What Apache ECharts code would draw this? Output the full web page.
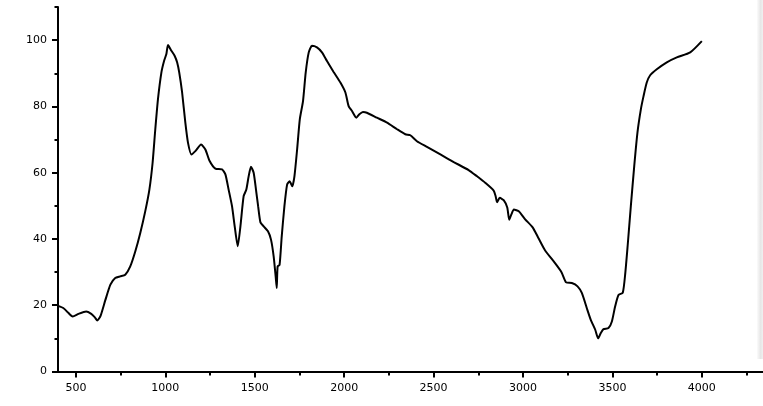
<!DOCTYPE html>
<html>
<head>
<meta charset="utf-8">
<style>
  html, body { margin: 0; padding: 0; background: #fff; }
  #chart { width: 763px; height: 406px; }
</style>
<script src="https://cdn.jsdelivr.net/npm/echarts@6/dist/echarts.min.js"></script>
</head>
<body>
<div id="chart"></div>
<script>
// wavenumber (cm-1) and transmittance (%)
const wavenumber = [
  400, 431, 456, 482, 515, 557, 586, 605, 620, 638, 665, 693, 720, 748, 776, 804, 832, 860, 888, 911,
  929, 944, 959, 978, 993, 1006, 1015, 1034, 1052, 1066, 1078, 1094, 1112, 1127, 1146, 1168, 1200, 1224, 1248, 1280,
  1317, 1336, 1354, 1373, 1388, 1405, 1420, 1438, 1453, 1466, 1479, 1494, 1507, 1519, 1532, 1550, 1574, 1591, 1606, 1617,
  1623, 1628, 1639, 1651, 1666, 1681, 1695, 1710, 1722, 1737, 1752, 1770, 1785, 1802, 1820, 1848, 1876, 1904, 1941, 1979,
  2007, 2025, 2044, 2068, 2085, 2105, 2127, 2183, 2240, 2296, 2342, 2370, 2407, 2463, 2538, 2613, 2696, 2743, 2790, 2836,
  2847, 2855, 2870, 2892, 2912, 2923, 2935, 2949, 2978, 3011, 3054, 3086, 3123, 3179, 3216, 3241, 3273, 3305, 3329, 3357,
  3379, 3404, 3420, 3435, 3450, 3478, 3497, 3515, 3534, 3558, 3572, 3585, 3603, 3622, 3640, 3659, 3674, 3692, 3711, 3748,
  3804, 3860, 3935, 4000
];
const transmittance = [
  19.8, 19.1, 17.8, 16.6, 17.4, 18.1, 17.4, 16.4, 15.4, 16.8, 21.6, 26.2, 28.2, 28.7, 29.2, 31.7, 36.2, 41.8, 48.4, 54.9,
  63.0, 73.1, 82.2, 90.2, 93.7, 95.8, 98.5, 96.8, 95.3, 93.3, 90.2, 84.2, 75.1, 69.0, 65.5, 66.5, 68.5, 67.0, 63.5, 61.2,
  61.0, 59.5, 54.9, 49.9, 43.8, 37.8, 43.8, 52.9, 54.9, 58.9, 61.8, 60.0, 54.9, 49.9, 45.0, 43.8, 42.3, 39.8, 34.7, 28.7,
  25.2, 31.7, 32.2, 40.8, 49.9, 56.4, 57.4, 55.9, 58.9, 67.0, 76.1, 81.6, 90.2, 96.3, 98.3, 97.8, 96.3, 93.7, 90.4, 87.2,
  84.2, 80.1, 78.6, 76.6, 77.6, 78.3, 78.1, 76.6, 75.1, 73.1, 71.6, 71.3, 69.5, 67.8, 65.5, 63.2, 60.8, 58.9, 56.9, 54.6,
  52.9, 51.1, 52.4, 51.7, 49.5, 45.8, 47.4, 48.9, 48.3, 46.0, 43.5, 40.3, 36.6, 32.7, 29.9, 26.9, 26.7, 25.7, 23.7, 19.1,
  15.6, 12.6, 10.0, 11.6, 12.8, 13.1, 15.1, 19.6, 23.1, 23.8, 29.7, 37.8, 49.9, 62.0, 72.1, 79.1, 83.1, 87.2, 89.4, 91.2,
  93.3, 94.8, 96.3, 99.7
];

// tick positions
const xMajorTicks = [500, 1000, 1500, 2000, 2500, 3000, 3500, 4000];
const xMinorTicks = [750, 1250, 1750, 2250, 2750, 3250, 3750, 4250];
const yMajorTicks = [0, 20, 40, 60, 80, 100];
const yMinorTicks = [10, 30, 50, 70, 90, 110];

const chart = echarts.init(document.getElementById("chart"));

const labelFont = { color: "#000", fontFamily: "DejaVu Sans", fontSize: 11 };
const axisLine = { show: true, lineStyle: { color: "#000", width: 2 } };
const X_MIN = 400, X_MAX = 4342;

chart.setOption({
    animation: false,
    grid: { left: 58, right: 0, top: 7, bottom: 34.5 },
    xAxis: [
        {
            type: "value", min: X_MIN, max: X_MAX,
            axisLine: axisLine,
            axisTick: { show: true, length: 6, customValues: xMajorTicks, lineStyle: { color: "#000", width: 2 } },
            axisLabel: { ...labelFont, margin: 11, customValues: xMajorTicks, formatter: v => String(v) },
            splitLine: { show: false },
        },
        {
            type: "value", min: X_MIN, max: X_MAX, position: "bottom",
            axisLine: { show: false },
            axisTick: { show: true, length: 4, customValues: xMinorTicks, lineStyle: { color: "#000", width: 2 } },
            axisLabel: { show: false },
            splitLine: { show: false },
        },
    ],
    yAxis: [
        {
            type: "value", min: 0, max: 110,
            axisLine: axisLine,
            axisTick: { show: true, length: 6, customValues: yMajorTicks, lineStyle: { color: "#000", width: 2 } },
            axisLabel: { ...labelFont, margin: 11, customValues: yMajorTicks },
            splitLine: { show: false },
        },
        {
            type: "value", min: 0, max: 110, position: "left",
            axisLine: { show: false },
            axisTick: { show: true, length: 3.5, customValues: yMinorTicks, lineStyle: { color: "#000", width: 2 } },
            axisLabel: { show: false },
            splitLine: { show: false },
        },
    ],
    graphic: [{
        type: "rect",
        shape: { x: 757, y: 0, width: 6, height: 359 },
        style: {
            fill: new echarts.graphic.LinearGradient(0, 0, 1, 0, [
                { offset: 0, color: "#fbfbfb" },
                { offset: 0.6, color: "#e6e6e6" },
                { offset: 1, color: "#f0f0f0" },
            ]),
        },
        z: 100,
    }],
    series: [{
        type: "line",
        data: wavenumber.map((w, i) => [w, transmittance[i]]),
        showSymbol: false,
        smooth: 0.2,
        lineStyle: { color: "#000", width: 2 },
    }],
});
</script>
</body>
</html>
